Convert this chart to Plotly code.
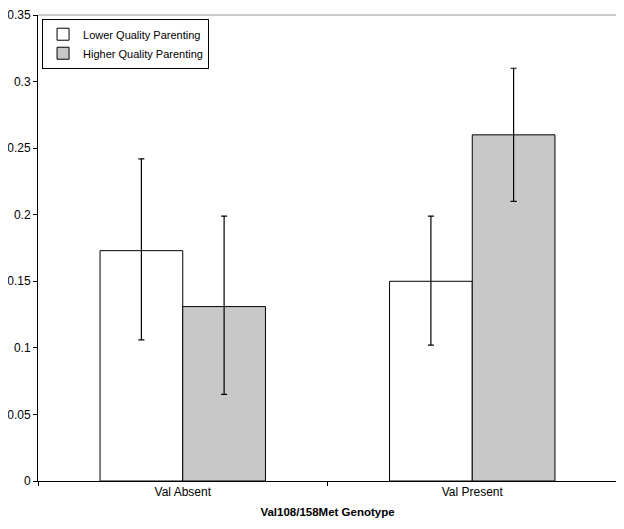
import plotly.graph_objects as go

categories = ["Val Absent", "Val Present"]
lower_vals = [0.173, 0.150]
lower_err_plus = [0.069, 0.049]
lower_err_minus = [0.067, 0.048]
higher_vals = [0.131, 0.260]
higher_err_plus = [0.068, 0.050]
higher_err_minus = [0.066, 0.050]
series_names = ["Lower Quality Parenting", "Higher Quality Parenting"]
y_ticks = [0, 0.05, 0.1, 0.15, 0.2, 0.25, 0.3, 0.35]

fig = go.Figure()
fig.add_trace(go.Bar(
    x=categories, y=lower_vals, name=series_names[0],
    marker=dict(color="white", line=dict(color="black", width=1)),
    error_y=dict(type="data", array=lower_err_plus, arrayminus=lower_err_minus,
                 symmetric=False, color="black", thickness=1.2, width=3),
))
fig.add_trace(go.Bar(
    x=categories, y=higher_vals, name=series_names[1],
    marker=dict(color="#c8c8c8", line=dict(color="black", width=1)),
    error_y=dict(type="data", array=higher_err_plus, arrayminus=higher_err_minus,
                 symmetric=False, color="black", thickness=1.2, width=3),
))

fig.update_layout(
    width=624, height=529,
    margin=dict(l=30, r=15, t=7, b=56, autoexpand=False),
    paper_bgcolor="white", plot_bgcolor="white",
    font=dict(family="Liberation Sans, Arial, sans-serif", size=12, color="black"),
    barmode="group", bargap=0.4286, bargroupgap=0,
    showlegend=True,
    legend=dict(x=0.007, y=0.992, xanchor="left", yanchor="top",
                bgcolor="white", bordercolor="black", borderwidth=1,
                font=dict(size=11), traceorder="normal",
                itemwidth=30, tracegroupgap=0),
    xaxis=dict(
        showgrid=False, showline=True, linecolor="black", linewidth=1,
        ticks="outside", tickson="boundaries", ticklen=4, tickcolor="black",
        tickfont=dict(size=12),
        title=dict(text="<b>Val108/158Met Genotype</b>", font=dict(size=11.5), standoff=9),
    ),
    yaxis=dict(
        range=[0, 0.35], tickvals=y_ticks, showgrid=False, zeroline=False,
        showline=True, linecolor="black", linewidth=1,
        ticks="outside", ticklen=4, tickcolor="black",
        tickfont=dict(size=12), ticklabeloverflow="allow",
    ),
    shapes=[
        dict(type="line", xref="x domain", yref="y domain", x0=0, x1=1, y0=1, y1=1,
             line=dict(color="#999999", width=1)),
        dict(type="line", xref="x domain", yref="y domain", x0=1, x1=1, y0=0, y1=1,
             line=dict(color="#999999", width=1)),
    ],
)

fig.write_html("out.html")
